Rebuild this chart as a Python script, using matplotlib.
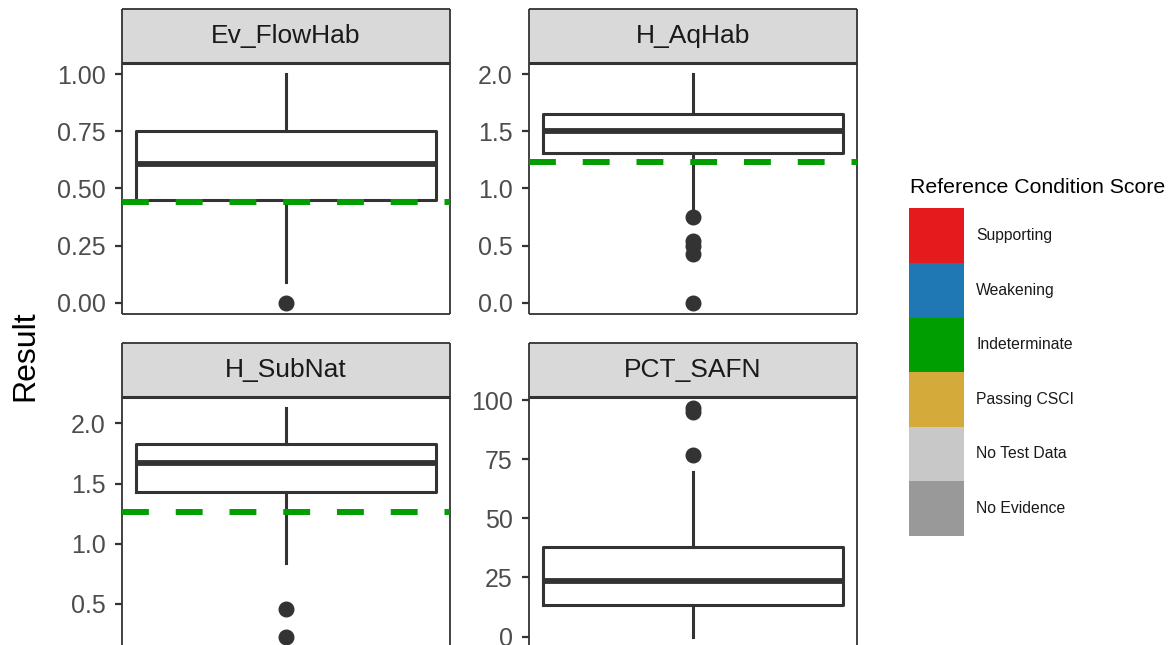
import numpy as np
import matplotlib.pyplot as plt

plt.rcParams['font.family'] = ['Liberation Sans', 'DejaVu Sans']

# facet panels
panels = ["Ev_FlowHab", "H_AqHab", "H_SubNat", "PCT_SAFN"]
q1 = [0.45, 1.31, 1.43, 13.5]
medians = [0.607, 1.505, 1.667, 23.7]
q3 = [0.75, 1.65, 1.83, 37.7]
whisker_lo = [0.092, 0.80, 0.84, 0.0]
whisker_hi = [1.0, 2.0, 2.125, 69.5]
outliers = [[0.0],
            [0.75, 0.54, 0.50, 0.43, 0.0],
            [0.455, 0.228],
            [76.7, 95.0, 96.5]]
thresholds = [0.442, 1.23, 1.26, None]
yticks = [[0.0, 0.25, 0.5, 0.75, 1.0],
          [0.0, 0.5, 1.0, 1.5, 2.0],
          [0.5, 1.0, 1.5, 2.0],
          [0, 25, 50, 75, 100]]
tick_fmt = ["{:.2f}", "{:.1f}", "{:.1f}", "{:.0f}"]

legend_labels = ["Supporting", "Weakening", "Indeterminate",
                 "Passing CSCI", "No Test Data", "No Evidence"]
legend_colors = ["#E41A1C", "#1F78B4", "#009E00",
                 "#D4AA3A", "#C8C8C8", "#999999"]

W, H = 1175, 645
fig = plt.figure(figsize=(W / 100, H / 100), dpi=100)

panel_left = [122, 529, 122, 529]
panel_top = [63, 63, 397, 397]
panel_w, panel_h, strip_h = 328, 251, 54
dark = "#333333"

for i, name in enumerate(panels):
    l = panel_left[i] / W
    b = 1 - (panel_top[i] + panel_h) / H
    ax = fig.add_axes([l, b, panel_w / W, panel_h / H])

    stats = [dict(med=medians[i], q1=q1[i], q3=q3[i],
                  whislo=whisker_lo[i], whishi=whisker_hi[i],
                  fliers=np.array(outliers[i]))]
    ax.bxp(stats, positions=[0], widths=0.75, showcaps=False,
           boxprops=dict(color=dark, linewidth=2.2),
           medianprops=dict(color=dark, linewidth=4.2, solid_capstyle='butt'),
           whiskerprops=dict(color=dark, linewidth=2.2),
           flierprops=dict(marker='o', markerfacecolor=dark,
                           markeredgecolor=dark, markersize=10.5))

    vals = [whisker_lo[i], whisker_hi[i]] + outliers[i]
    if thresholds[i] is not None:
        vals.append(thresholds[i])
        ax.axhline(thresholds[i], color="#009E00", linewidth=4.3,
                   dashes=(4.5, 4.5), zorder=5)
    lo, hi = min(vals), max(vals)
    pad = 0.05 * (hi - lo)
    ax.set_ylim(lo - pad, hi + pad)
    ax.set_xlim(-0.411, 0.411)

    ax.set_yticks(yticks[i])
    ax.set_yticklabels([tick_fmt[i].format(t) for t in yticks[i]])
    ax.set_xticks([])
    ax.tick_params(axis='y', length=5.3, width=1.6, color=dark,
                   labelsize=18, labelcolor="#4D4D4D", pad=6.3)
    for sp in ax.spines.values():
        sp.set_color(dark)
        sp.set_linewidth(1.3)
        sp.set_capstyle('butt')

    # strip on top of the panel
    sax = fig.add_axes([l, b + panel_h / H, panel_w / W, strip_h / H])
    sax.set_facecolor("#D9D9D9")
    sax.set_xticks([])
    sax.set_yticks([])
    for sp in sax.spines.values():
        sp.set_color(dark)
        sp.set_linewidth(1.3)
        sp.set_capstyle('butt')
    sax.spines['bottom'].set_linewidth(2.2)
    sax.text(0.5, 0.5, name, ha='center', va='center', fontsize=19,
             color="#1A1A1A", transform=sax.transAxes)

fig.text(25 / W, 1 - 356 / H, "Result", rotation=90, ha='center',
         va='center', fontsize=23)

# legend
fig.text(910 / W, 1 - 188 / H, "Reference Condition Score", ha='left',
         va='center', fontsize=15.3)
key_top, key_h, key_w = 208.3, 54.6, 54.7
lax = fig.add_axes([909.3 / W, 1 - (key_top + key_h * len(legend_labels)) / H,
                    key_w / W, key_h * len(legend_labels) / H])
ypos = np.arange(len(legend_labels))
lax.barh(ypos, 1, height=1, color=legend_colors)
lax.set_ylim(len(legend_labels) - 0.5, -0.5)
lax.set_xlim(0, 1)
lax.axis('off')
for y, lab in zip(ypos, legend_labels):
    lax.text(1.22, y, lab, ha='left', va='center', fontsize=11.3,
             color="#1A1A1A", clip_on=False)

fig.savefig("out.png", dpi=100)
